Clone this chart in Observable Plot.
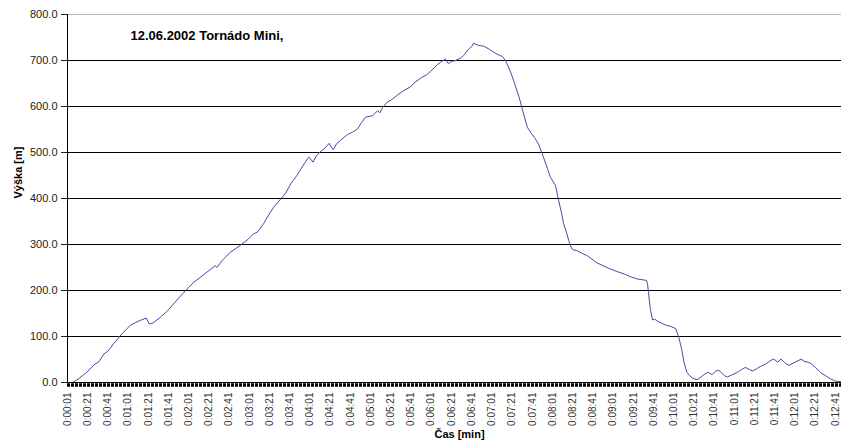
<!DOCTYPE html>
<html><head><meta charset="utf-8">
<script src="https://cdn.jsdelivr.net/npm/d3@7"></script>
<script src="https://cdn.jsdelivr.net/npm/@observablehq/plot@0.6"></script>
<style>body{margin:0;background:#fff;} #chart svg{display:block;}</style>
</head><body><div id="chart"></div>
<script>
const title = "12.06.2002 Tornádo Mini,";
const xLabel = "Čas [min]";
const yLabel = "Výška [m]";

// time in seconds since start (sampled) and altitude in metres
const seconds = [4,6,12,20,27,32,37,41,48,55,63,68,73,79,82,86,93,100,106,112,118,126,132,139,145,147,149,154,162,172,180,185,189,195,200,205,212,217,222,228,235,240,244,247,251,256,260,262,264,267,271,278,283,288,292,296,303,308,310,313,317,322,327,334,340,344,352,356,360,364,367,370,375,378,381,385,390,393,398,401,403,405,408,413,418,422,426,431,433,436,440,443,448,451,456,460,463,467,472,476,479,484,487,490,492,495,497,500,502,505,510,515,519,525,531,538,545,552,558,565,571,574,575,576,577,578,580,582,585,590,594,598,603,606,608,609,611,614,618,621,624,628,632,635,639,642,645,648,651,654,658,664,668,672,676,679,683,687,692,697,700,704,707,711,715,719,723,727,730,734,737,741,746,751,756,761,766];
const heights = [0,0,8,22,38,45,62,68,88,106,124,130,135,140,127,130,142,156,171,186,200,218,228,240,250,254,250,265,283,298,312,323,327,345,364,381,399,412,432,450,475,490,479,492,501,510,520,512,506,518,526,539,544,551,565,577,580,591,586,598,609,615,624,635,642,651,664,668,676,684,691,696,703,693,698,700,705,711,725,730,738,735,733,731,725,719,714,709,705,693,672,653,620,595,555,542,533,519,490,465,446,428,396,368,345,325,309,291,288,287,281,276,270,260,254,247,241,236,230,225,223,222,215,196,175,157,136,138,133,128,124,122,117,98,80,70,45,22,12,8,6,12,19,22,17,24,27,22,15,12,16,22,28,33,28,25,30,35,40,48,51,44,51,43,37,42,46,51,46,44,41,33,22,15,8,3,2];

const xTickLabels = ["0:00:01","0:00:21","0:00:41","0:01:01","0:01:21","0:01:41","0:02:01","0:02:21","0:02:41","0:03:01","0:03:21","0:03:41","0:04:01","0:04:21","0:04:41","0:05:01","0:05:21","0:05:41","0:06:01","0:06:21","0:06:41","0:07:01","0:07:21","0:07:41","0:08:01","0:08:21","0:08:41","0:09:01","0:09:21","0:09:41","0:10:01","0:10:21","0:10:41","0:11:01","0:11:21","0:11:41","0:12:01","0:12:21","0:12:41"];
const yTicks = [0,100,200,300,400,500,600,700,800];

const data = seconds.map((t, i) => ({t, h: heights[i]}));
const toSec = s => { const [h, m, x] = s.split(":").map(Number); return h * 3600 + m * 60 + x; };
const xTickVals = xTickLabels.map(toSec);
const labelOf = new Map(xTickVals.map((v, i) => [v, xTickLabels[i]]));

const chart = Plot.plot({
  width: 841,
  height: 445,
  marginLeft: 67,
  marginRight: 0,
  marginTop: 14,
  marginBottom: 63,
  style: {fontFamily: "'Liberation Sans', Arial, sans-serif", background: "#fff", color: "#000"},
  x: {type: "linear", domain: [1, 767]},
  y: {domain: [0, 800]},
  marks: [
    Plot.ruleY(yTicks.filter(d => d > 0 && d < 800), {stroke: "#000", strokeWidth: 1}),
    Plot.ruleY([800], {stroke: "#bbb", strokeWidth: 1}),
    Plot.ruleX([1], {y1: 0, y2: 800, stroke: "#000"}),
    Plot.axisY(yTicks, {tickSize: 6, tickPadding: 4, tickFormat: d => d.toFixed(1), fontSize: 11, label: null, color: "#222"}),
    Plot.axisX(xTickVals, {tickFormat: d => labelOf.get(d), tickRotate: -90, tickSize: 0, tickPadding: 10, fontSize: 10, label: null, color: "#333"}),
    Plot.line(data, {x: "t", y: "h", stroke: "#4b47a8", strokeWidth: 1}),
    Plot.ruleY([0], {stroke: "#000", strokeWidth: 1}),
    Plot.ruleY([0], {stroke: "#000", strokeWidth: 3.5, strokeDasharray: "3,1", dy: 2.5}),
    Plot.text([title], {frameAnchor: "top-left", text: d => d, dx: 63, dy: 21, lineAnchor: "middle", textAnchor: "start", fontSize: 13, fontWeight: "bold", fill: "#000"}),
    Plot.text([yLabel], {frameAnchor: "left", text: d => d, dx: -49, rotate: -90, fontSize: 11, fontWeight: "bold", fill: "#000"}),
    Plot.text([xLabel], {frameAnchor: "bottom", text: d => d, dx: 5, dy: 55, fontSize: 11, fontWeight: "bold", fill: "#000"})
  ]
});
document.getElementById("chart").appendChild(chart);
</script>
</body></html>
